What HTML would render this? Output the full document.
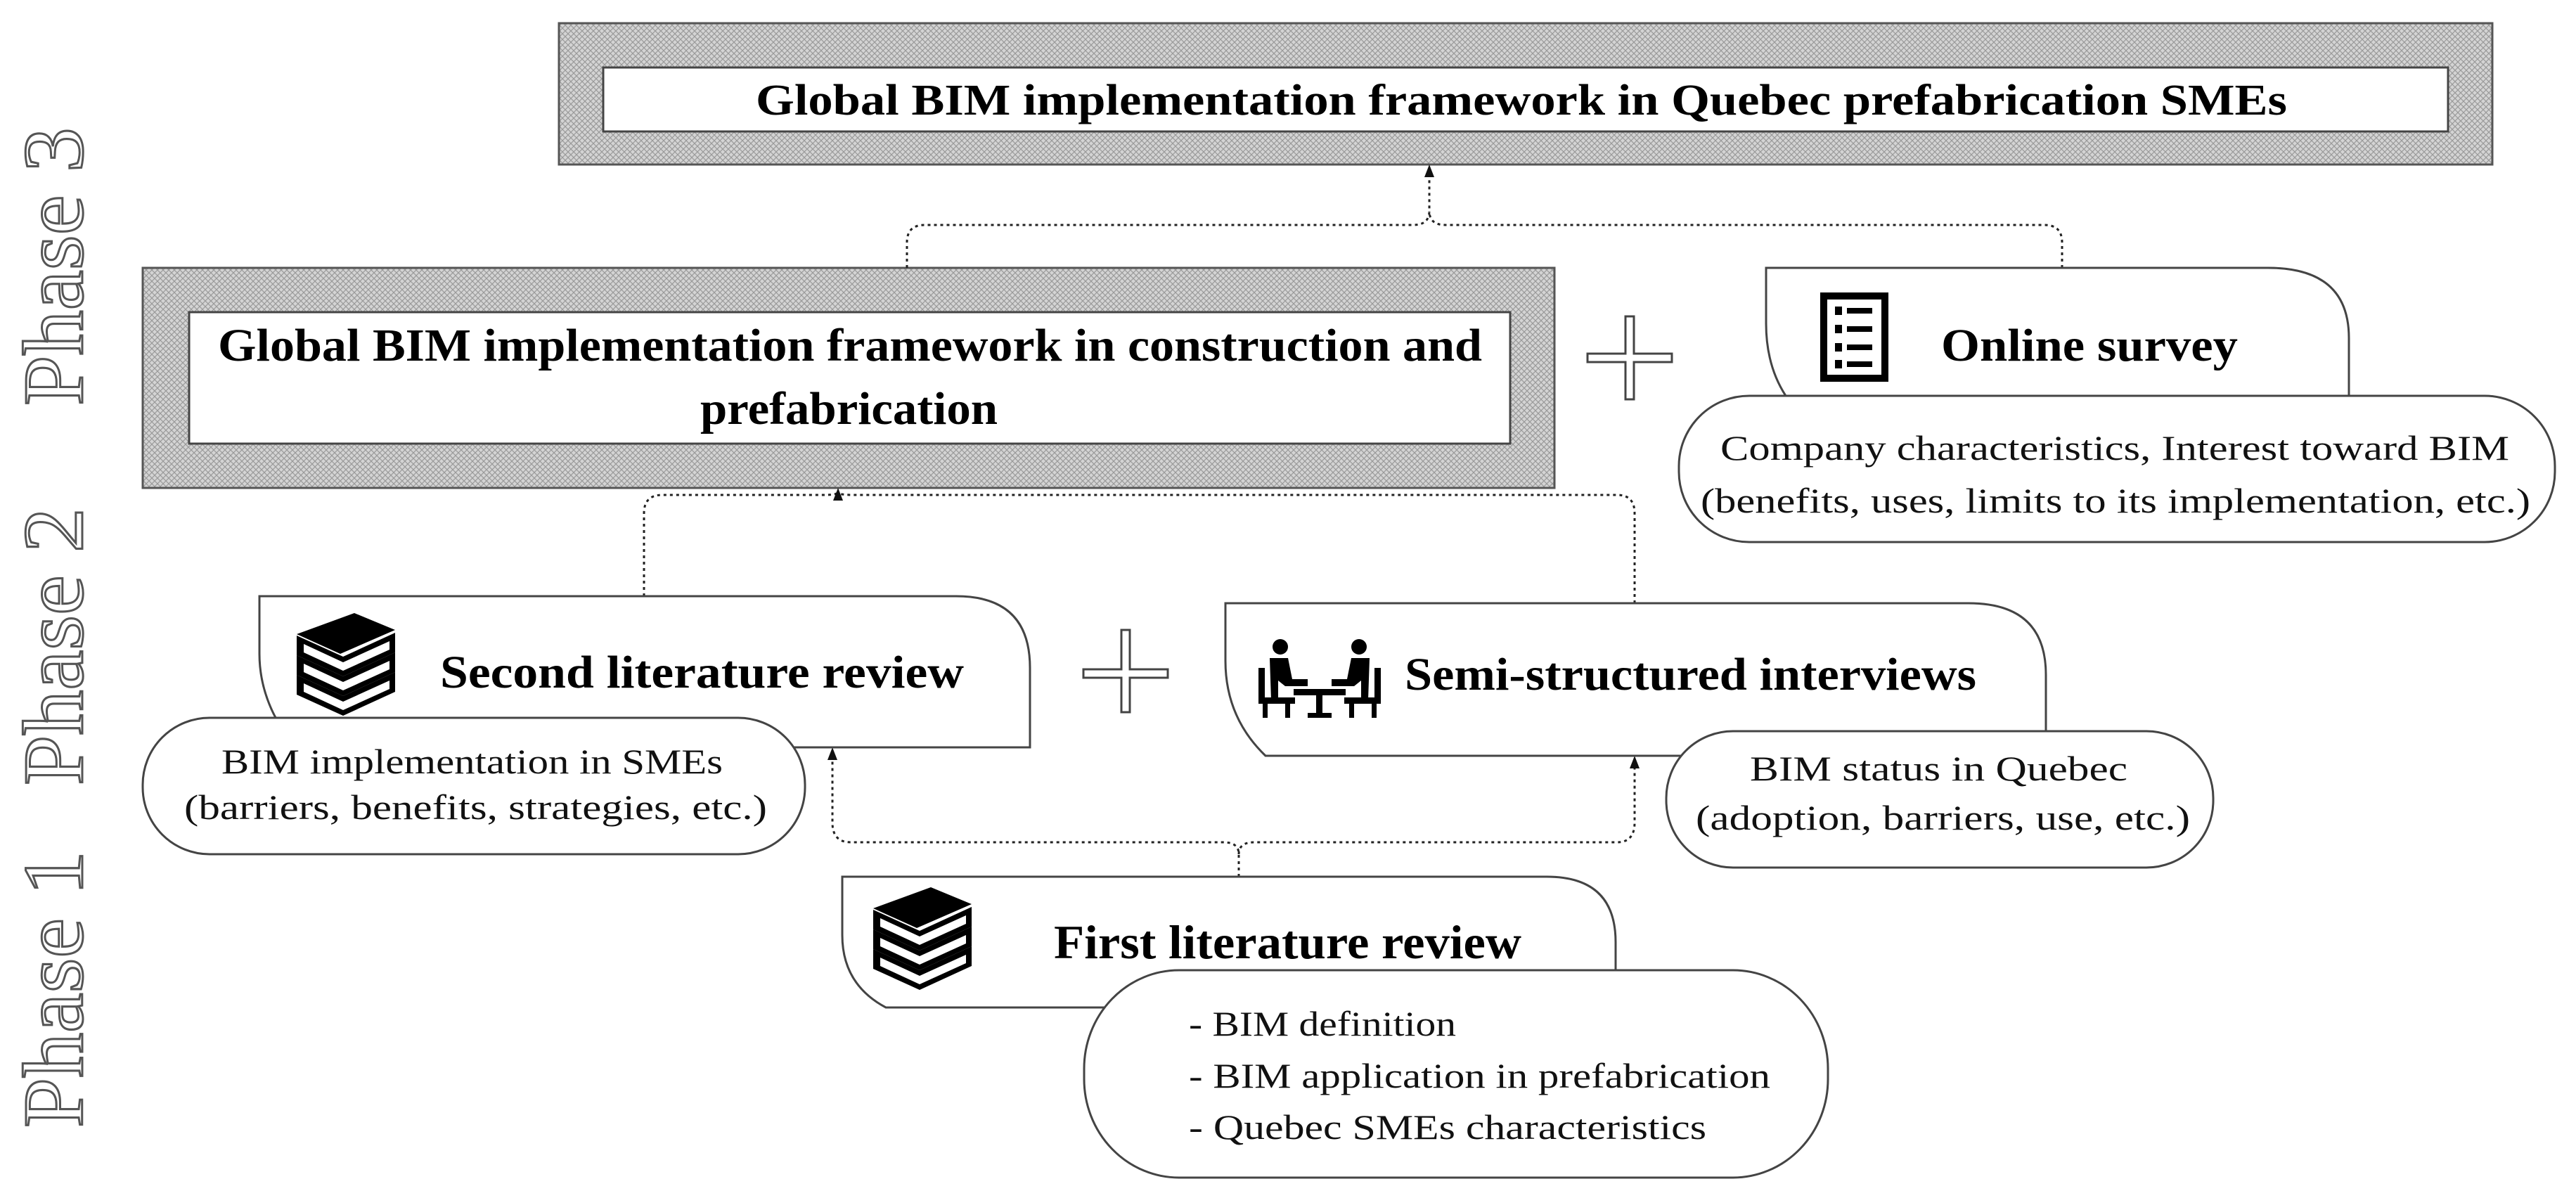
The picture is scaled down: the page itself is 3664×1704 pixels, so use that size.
<!DOCTYPE html>
<html><head><meta charset="utf-8"><style>
html,body{margin:0;padding:0;background:#fff;}
svg{display:block;}
text{font-family:"Liberation Serif",serif;}
.b{font-weight:bold;fill:#000;}
.r{fill:#111;}
</style></head><body>
<svg width="3664" height="1704" viewBox="0 0 3664 1704" xmlns="http://www.w3.org/2000/svg">
<defs>
<pattern id="h" width="8" height="8" patternUnits="userSpaceOnUse">
<rect width="8" height="8" fill="#d4d4d4"/>
<path d="M0 0L8 8M8 0L0 8" stroke="#9a9a9a" stroke-width="1.2"/>
</pattern>
<g id="books">
<g fill="#000">
<path d="M2 88 L68 118 L142 84 L142 112 L68 146 L2 116Z"/>
<path d="M2 60 L68 90 L142 56 L142 84 L68 118 L2 88Z"/>
<path d="M2 32 L68 62 L142 28 L142 56 L68 90 L2 60Z"/>
<path d="M2 30 L84 0 L142 24 L64 58Z"/>
</g>
<g fill="#fff">
<path d="M12 100 L68 126 L134 96 L134 108 L68 138 L12 112Z"/>
<path d="M12 72 L68 98 L134 68 L134 80 L68 110 L12 84Z"/>
<path d="M12 44 L68 70 L134 40 L134 52 L68 82 L12 56Z"/>
</g>
</g>
</defs>

<!-- Phase labels -->
<g fill="#fff" stroke="#555" stroke-width="3" font-size="122">
<text transform="translate(117,577) rotate(-90)" textLength="396" lengthAdjust="spacingAndGlyphs">Phase 3</text>
<text transform="translate(117,1117) rotate(-90)" textLength="395" lengthAdjust="spacingAndGlyphs">Phase 2</text>
<text transform="translate(117,1604) rotate(-90)" textLength="394" lengthAdjust="spacingAndGlyphs">Phase 1</text>
</g>

<!-- Top box -->
<rect x="795" y="33" width="2750" height="201" fill="url(#h)" stroke="#555" stroke-width="3"/>
<rect x="858" y="96" width="2624" height="91" fill="#fff" stroke="#444" stroke-width="3"/>
<text class="b" x="1075" y="163" font-size="62" textLength="2178" lengthAdjust="spacingAndGlyphs">Global BIM implementation framework in Quebec prefabrication SMEs</text>

<!-- Second box -->
<rect x="203" y="381" width="2008" height="313" fill="url(#h)" stroke="#555" stroke-width="3"/>
<rect x="269" y="444" width="1879" height="187" fill="#fff" stroke="#444" stroke-width="3"/>
<text class="b" x="310" y="513" font-size="66" textLength="1798" lengthAdjust="spacingAndGlyphs">Global BIM implementation framework in construction and</text>
<text class="b" x="996" y="603" font-size="66" textLength="423" lengthAdjust="spacingAndGlyphs">prefabrication</text>

<!-- Connectors -->
<g fill="none" stroke="#222" stroke-width="3" stroke-dasharray="4 5">
<path d="M1290 381 V345 Q1290 320 1315 320 H2010 Q2033 320 2033 300 V240"/>
<path d="M2933 381 V345 Q2933 320 2908 320 H2056 Q2033 320 2033 300"/>
<path d="M916 848 V730 Q916 704 942 704 H1170 Q1192 704 1192 700"/>
<path d="M2325 858 V730 Q2325 704 2300 704 H1214 Q1192 704 1192 700"/>
<path d="M1762 1247 V1215 Q1762 1198 1740 1198 H1210 Q1184 1198 1184 1170 V1078"/>
<path d="M1762 1215 Q1762 1198 1784 1198 H2300 Q2325 1198 2325 1170 V1090"/>
</g>
<g fill="#111">
<path d="M2033 234 L2026 252 L2040 252Z"/>
<path d="M1192 694 L1185 712 L1199 712Z"/>
<path d="M1184 1063 L1177 1081 L1191 1081Z"/>
<path d="M2325 1075 L2318 1093 L2332 1093Z"/>
</g>

<!-- Plus signs -->
<g fill="#fff" stroke="#444" stroke-width="3">
<path d="M2312 450 H2324 V503 H2378 V515 H2324 V568 H2312 V515 H2258 V503 H2312Z"/>
<path d="M1595 896 H1607 V952 H1661 V964 H1607 V1013 H1595 V964 H1541 V952 H1595Z"/>
</g>

<!-- Online survey -->
<path d="M2512 381 H3226 Q3341 381 3341 481 V563 H2540 Q2512 520 2512 460Z" fill="#fff" stroke="#444" stroke-width="3"/>
<rect x="2594" y="421" width="87" height="117" fill="#fff" stroke="#000" stroke-width="10"/>
<g fill="#000">
<rect x="2610" y="436" width="10" height="12"/><rect x="2627" y="438" width="36" height="8"/>
<rect x="2610" y="462" width="10" height="12"/><rect x="2627" y="464" width="36" height="8"/>
<rect x="2610" y="488" width="10" height="12"/><rect x="2627" y="490" width="36" height="8"/>
<rect x="2610" y="512" width="10" height="12"/><rect x="2627" y="514" width="36" height="8"/>
</g>
<text class="b" x="2761" y="513" font-size="66" textLength="422" lengthAdjust="spacingAndGlyphs">Online survey</text>
<rect x="2388" y="563" width="1246" height="208" rx="100" ry="100" fill="#fff" stroke="#444" stroke-width="3"/>
<text class="r" x="2447" y="654" font-size="50" textLength="1122" lengthAdjust="spacingAndGlyphs">Company characteristics, Interest toward BIM</text>
<text class="r" x="2419" y="729" font-size="50" textLength="1180" lengthAdjust="spacingAndGlyphs">(benefits, uses, limits to its implementation, etc.)</text>

<!-- Second literature review -->
<path d="M369 848 H1360 Q1465 848 1465 950 V1063 H420 Q369 1000 369 930Z" fill="#fff" stroke="#444" stroke-width="3"/>
<use href="#books" transform="translate(420,872)"/>
<text class="b" x="626" y="978" font-size="66" textLength="745" lengthAdjust="spacingAndGlyphs">Second literature review</text>
<rect x="203" y="1021" width="942" height="194" rx="95" ry="95" fill="#fff" stroke="#444" stroke-width="3"/>
<text class="r" x="315" y="1100" font-size="50" textLength="713" lengthAdjust="spacingAndGlyphs">BIM implementation in SMEs</text>
<text class="r" x="262" y="1165" font-size="50" textLength="829" lengthAdjust="spacingAndGlyphs">(barriers, benefits, strategies, etc.)</text>

<!-- Semi-structured interviews -->
<path d="M1743 858 H2800 Q2910 858 2910 960 V1075 H1800 Q1743 1020 1743 940Z" fill="#fff" stroke="#444" stroke-width="3"/>
<g fill="#000" transform="translate(1788,908)">
<circle cx="33" cy="12" r="11"/><circle cx="145" cy="12" r="11"/>
<path d="M18 28 H44 L50 58 H72 V68 H40 L30 60 V88 H20Z"/>
<path d="M160 28 H134 L128 58 H106 V68 H138 L148 60 V88 H158Z"/>
<rect x="2" y="42" width="9" height="48"/><rect x="167" y="42" width="9" height="48"/>
<rect x="2" y="84" width="52" height="9"/><rect x="124" y="84" width="52" height="9"/>
<rect x="8" y="93" width="7" height="20"/><rect x="40" y="93" width="7" height="20"/>
<rect x="131" y="93" width="7" height="20"/><rect x="163" y="93" width="7" height="20"/>
<rect x="52" y="72" width="74" height="9"/><rect x="84" y="81" width="9" height="30"/><rect x="72" y="106" width="34" height="7"/>
</g>
<text class="b" x="1998" y="981" font-size="66" textLength="813" lengthAdjust="spacingAndGlyphs">Semi-structured interviews</text>
<rect x="2370" y="1040" width="778" height="194" rx="95" ry="95" fill="#fff" stroke="#444" stroke-width="3"/>
<text class="r" x="2489" y="1110" font-size="50" textLength="537" lengthAdjust="spacingAndGlyphs">BIM status in Quebec</text>
<text class="r" x="2412" y="1180" font-size="50" textLength="703" lengthAdjust="spacingAndGlyphs">(adoption, barriers, use, etc.)</text>

<!-- First literature review -->
<path d="M1198 1247 H2200 Q2298 1247 2298 1340 V1433 H1260 Q1198 1400 1198 1330Z" fill="#fff" stroke="#444" stroke-width="3"/>
<use href="#books" transform="translate(1240,1262)"/>
<text class="b" x="1499" y="1363" font-size="68" textLength="665" lengthAdjust="spacingAndGlyphs">First literature review</text>
<rect x="1542" y="1380" width="1058" height="295" rx="135" ry="140" fill="#fff" stroke="#444" stroke-width="3"/>
<text class="r" x="1691" y="1473" font-size="50" textLength="380" lengthAdjust="spacingAndGlyphs">- BIM definition</text>
<text class="r" x="1691" y="1547" font-size="50" textLength="827" lengthAdjust="spacingAndGlyphs">- BIM application in prefabrication</text>
<text class="r" x="1691" y="1620" font-size="50" textLength="736" lengthAdjust="spacingAndGlyphs">- Quebec SMEs characteristics</text>
</svg>
</body></html>
